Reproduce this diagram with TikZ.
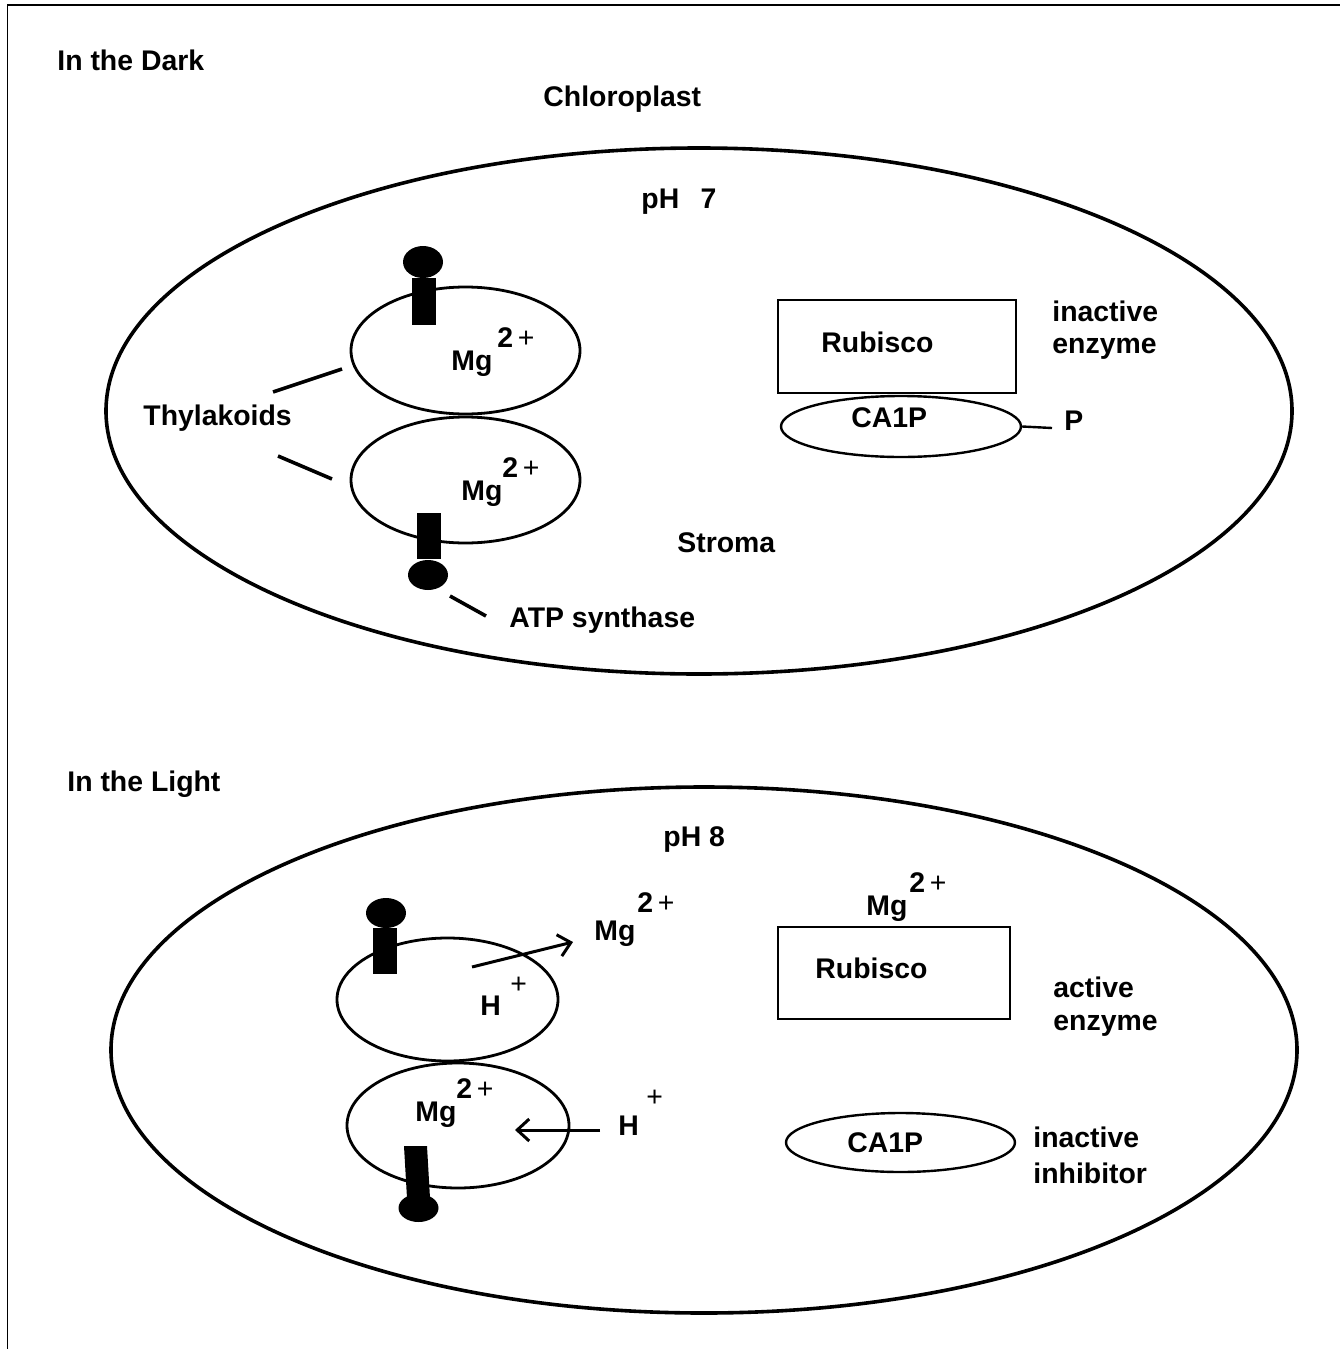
\documentclass[tikz,border=0pt]{standalone}
\usepackage{fontspec}
\setmainfont{Liberation Sans}
\usetikzlibrary{shapes.geometric,arrows.meta}
\begin{document}
\begin{tikzpicture}[x=0.5pt,y=-0.5pt,
  txt/.style={font=\fontsize{14.2}{16}\selectfont\bfseries, inner sep=0pt, anchor=base west},
  plus/.style={font=\fontsize{14.2}{16}\selectfont, inner sep=0pt, anchor=base west},
  blob/.style={ellipse, fill=black, inner sep=0pt},
  chloro/.style={ellipse, draw, line width=1.8pt, inner sep=0pt, minimum width=593pt, minimum height=263pt},
  thyl/.style={ellipse, draw, line width=1.4pt, inner sep=0pt},
  inhib/.style={ellipse, draw, line width=1.2pt, inner sep=0pt},
  enzbox/.style={rectangle, draw, line width=1.2pt, inner sep=0pt},
  ptr/.style={line width=1.8pt},
  arr/.style={line width=1.5pt, -{Straight Barb[length=6pt,width=11pt,line width=1.5pt]}}]
\useasboundingbox (0,0) rectangle (1340,1349);
\fill[white] (0,0) rectangle (1340,1349);
\draw[line width=1pt] (7,5) -- (1340,5);
\draw[line width=0.5pt] (7,5) -- (7,1349);

% ---------------- In the Dark ----------------
\node[txt] (dark) at (57,70) {In the Dark};
\node[txt] (chlab) at (543,106) {Chloroplast};
\node[chloro] (chl1) at (699,411) {};
\node[txt] (ph7) at (641,208) {pH\hspace{0.75em}7};

\node[thyl, minimum width=114.5pt, minimum height=63.5pt] (t1a) at (465.5,350.5) {};
\node[thyl, minimum width=114.5pt, minimum height=63pt] (t1b) at (465.5,480) {};
\node[txt] (mg1a) at (451,370) {Mg};
\node[txt] (sup1a) at (497,347) {2\,\mdseries+};
\node[txt] (mg1b) at (461,500) {Mg};
\node[txt] (sup1b) at (502,477) {2\,\mdseries+};

% ATP synthases
\node[blob, minimum width=20pt, minimum height=16pt] (h1a) at (423,262) {};
\fill (412,278) rectangle (436,325);
\node[blob, minimum width=20pt, minimum height=15pt] (h1b) at (428,575) {};
\fill (417,513) rectangle (441,559);

\node[txt] (thy) at (143,425) {Thylakoids};
\coordinate (c1) at (273,392);
\coordinate (c1e) at (342,369);
\coordinate (c2) at (278,456);
\coordinate (c2e) at (332,479);
\draw[ptr] (c1) -- (c1e);
\draw[ptr] (c2) -- (c2e);

\node[txt] (atp) at (509,627) {ATP synthase};
\coordinate (c3) at (450,596);
\coordinate (c3e) at (486,616);
\draw[ptr] (c3) -- (c3e);

\node[txt] (stroma) at (677,552) {Stroma};

\node[enzbox, minimum width=119pt, minimum height=46.5pt] (rub1) at (897,346.5) {};
\node[txt] (rub1t) at (821,352) {Rubisco};
\node[inhib, minimum width=120pt, minimum height=30.5pt] (ca1) at (901,426.5) {};
\node[txt] (ca1t) at (851,427) {CA1P};
\node[txt] (pl) at (1064,430) {P};
\coordinate (pe) at (1052,428);
\draw[line width=1.2pt] (ca1.east) -- (pe);
\node[txt] (inact1) at (1052,321) {inactive};
\node[txt] (enz1) at (1052,353) {enzyme};

% ---------------- In the Light ----------------
\node[txt] (light) at (67,791) {In the Light};
\node[chloro] (chl2) at (704,1050) {};
\node[txt] (ph8) at (663,846) {pH 8};

\node[thyl, minimum width=110.5pt, minimum height=61.5pt] (t2a) at (447.5,999.5) {};
\node[thyl, minimum width=111pt, minimum height=62.5pt] (t2b) at (458,1125.5) {};

\node[blob, minimum width=20pt, minimum height=15pt] (h2a) at (386,913) {};
\fill (373,928) rectangle (397,974);
\node[blob, minimum width=20pt, minimum height=14pt] (h2b) at (418.5,1208) {};
\fill (404,1146) -- (427,1146) -- (430,1198) -- (407,1198) -- cycle;

\node[txt] (h2t) at (480,1015) {H};
\node[plus] (h2p) at (510,993) {+};
\coordinate (a1s) at (472,967);
\coordinate (a1e) at (573,942);
\draw[arr] (a1s) -- (a1e);
\node[txt] (mg2o) at (594,940) {Mg};
\node[txt] (sup2o) at (637,912) {2\,\mdseries+};

\node[txt] (mg2b) at (415,1121) {Mg};
\node[txt] (sup2b) at (456,1098) {2\,\mdseries+};
\coordinate (a2s) at (600,1130);
\coordinate (a2e) at (515,1130);
\draw[arr] (a2s) -- (a2e);
\node[txt] (h3t) at (618,1135) {H};
\node[plus] (h3p) at (646,1106) {+};

\node[txt] (mg2r) at (866,915) {Mg};
\node[txt] (sup2r) at (909,892) {2\,\mdseries+};
\node[enzbox, minimum width=116pt, minimum height=46pt] (rub2) at (894,973) {};
\node[txt] (rub2t) at (815,978) {Rubisco};
\node[txt] (act) at (1053,997) {active};
\node[txt] (enz2) at (1053,1030) {enzyme};

\node[inhib, minimum width=114.5pt, minimum height=29.5pt] (ca2) at (900.5,1142.5) {};
\node[txt] (ca2t) at (847,1152) {CA1P};
\node[txt] (inact2) at (1033,1147) {inactive};
\node[txt] (inh) at (1033,1183) {inhibitor};
\end{tikzpicture}
\end{document}
